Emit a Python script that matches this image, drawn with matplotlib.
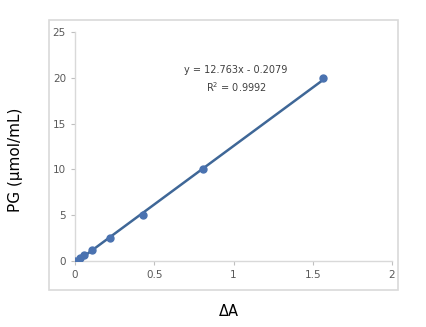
import numpy as np
import matplotlib.pyplot as plt
from matplotlib.patches import Rectangle

# standard curve points
delta_a = [0.0, 0.03, 0.055, 0.11, 0.22, 0.43, 0.81, 1.565]
pg = [0.0, 0.3125, 0.625, 1.25, 2.5, 5.0, 10.0, 20.0]
slope = 12.763
intercept = -0.2079
eq_text = 'y = 12.763x - 0.2079'
r2_text = 'R$^2$ = 0.9992'

fig = plt.figure(figsize=(4.26, 3.27), dpi=100)
ax = fig.add_axes([75/426, 1-261/327, (392-75)/426, (261-32)/327])

# chart frame (excel style)
fig.patches.append(Rectangle((49/426, 1-290/327), (398-49)/426, (290-20)/327,
                             transform=fig.transFigure, fill=False,
                             edgecolor='#d9d9d9', linewidth=1.2))

line_color = '#4a72b0'
xs = np.array([min(delta_a), max(delta_a)])
ax.plot(xs, slope*xs + intercept, color='#3f6797', linewidth=1.8, zorder=2)
ax.plot(delta_a, pg, 'o', color=line_color, markersize=5, zorder=3)

ax.set_xlim(0, 2)
ax.set_ylim(0, 25)
ax.set_xticks([0, 0.5, 1, 1.5, 2])
ax.set_xticklabels(['0', '0.5', '1', '1.5', '2'])
ax.set_yticks([0, 5, 10, 15, 20, 25])
for s in ['top', 'right']:
    ax.spines[s].set_visible(False)
for s in ['left', 'bottom']:
    ax.spines[s].set_color('#d9d9d9')
    ax.spines[s].set_linewidth(1.0)
ax.tick_params(colors='#bfbfbf', labelcolor='#595959', labelsize=7.5,
               length=3, width=0.8, direction='out')

ax.text(1.016, 20.85, eq_text, fontsize=7, color='#404040', ha='center', va='center')
ax.text(1.016, 19.0, r2_text, fontsize=7, color='#404040', ha='center', va='center')

fig.text(16/426, 1-160/327, 'PG (μmol/mL)', rotation=90, fontsize=11,
         ha='center', va='center')
fig.text(229/426, 1-311/327, 'ΔA', fontsize=10.5, ha='center', va='center')

fig.savefig('out.png', dpi=100)
